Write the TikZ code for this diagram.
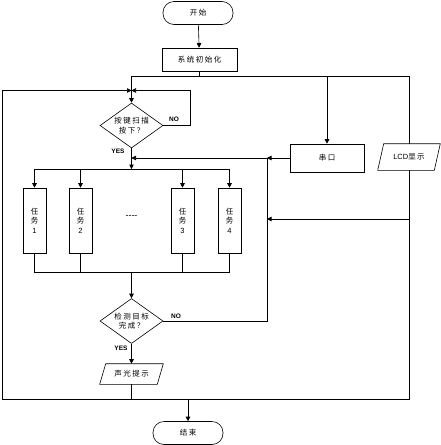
\documentclass[tikz,border=0pt]{standalone}
\usepackage{fontspec}
\setmainfont{Liberation Sans}
\newfontfamily\cjk[LetterSpace=20]{Noto Sans CJK SC}
\newfontfamily\lat{Liberation Sans}
\usetikzlibrary{shapes.geometric,arrows.meta,calc}
\begin{document}
\begin{tikzpicture}[x=1pt,y=-1pt, line width=0.6pt,
  arr/.style={-{Triangle[length=4.5pt,width=4.5pt]}},
  txt/.style={font={\cjk\fontsize{7.5}{9.5}\selectfont}, align=center},
  box/.style={draw, rectangle, txt, inner sep=0pt},
  term/.style={draw, rectangle, rounded corners=11pt, minimum width=70pt, minimum height=23pt, txt},
  dec/.style={draw, diamond, aspect=1.4, inner sep=0pt, minimum width=63pt, minimum height=45pt, txt},
  task/.style={box, minimum width=23pt, minimum height=65pt},
  para/.style={txt, inner sep=0pt},
  lbl/.style={font={\bfseries\fontsize{6.5}{7}\selectfont}, inner sep=0pt}]
\useasboundingbox (0,0) rectangle (441,445);
% nodes
\node[term] (start) at (198,13) {开始};
\node[box, minimum width=75pt, minimum height=23pt] (init) at (199.5,59.5) {系统初始化};
\node[dec] (d1) at (131.5,125.5) {按键扫描\\按下？};
\node[box, minimum width=74pt, minimum height=28pt] (com) at (327,158) {串口};
\node[para, minimum width=56pt, minimum height=26pt] (lcd) at (409,157) {{\lat LCD}显示};
\node[task] (t1) at (34.5,220.5) {任\\务\\{\lat 1}};
\node[task] (t2) at (80.5,220.5) {任\\务\\{\lat 2}};
\node[task] (t3) at (182.5,220.5) {任\\务\\{\lat 3}};
\node[task] (t4) at (229.5,220.5) {任\\务\\{\lat 4}};
\node[font={\lat\fontsize{9}{9}\selectfont}] (dots) at (131.5,217) {-{}-{}-{}-};
\node[dec] (d2) at (131.5,321) {检测目标\\完成？};
\node[para, minimum width=57pt, minimum height=20pt] (sg) at (131.5,374) {声光提示};
\node[term] (end) at (188,433) {结束};
% parallelograms
\draw ($(lcd.south west)+(-3,0)$) -- ($(lcd.south east)+(-3,0)$) -- ($(lcd.north east)+(3,0)$) -- ($(lcd.north west)+(3,0)$) -- cycle;
\draw ($(sg.south west)+(-3,0)$) -- ($(sg.south east)+(-3,0)$) -- ($(sg.north east)+(3,0)$) -- ($(sg.north west)+(3,0)$) -- cycle;
% labels
\node[lbl] (no1l) at (174,119) {NO};
\node[lbl] (yes1l) at (118,151) {YES};
\node[lbl] (no2l) at (176,316) {NO};
\node[lbl] (yes2l) at (121,348) {YES};
% coordinates
\coordinate (j0) at (199.5,76);
\coordinate (jL) at (131.5,76);
\coordinate (jC) at (327,76);
\coordinate (jR) at (409,76);
\coordinate (loop) at (131.5,90.5);
\coordinate (ll) at (2,90.5);
\coordinate (lb) at (2,399);
\coordinate (rb) at (409,399);
\coordinate (no1) at (190,125.5);
\coordinate (no1t) at (190,90.5);
\coordinate (sgb) at (131.5,399);
\coordinate (eb) at (188,399);
\coordinate (bt) at (131.5,169);
\coordinate (b1) at (34.5,169);
\coordinate (b4) at (229.5,169);
\coordinate (bb) at (131.5,272);
\coordinate (cm) at (267,158);
\coordinate (ym) at (131.5,158);
\coordinate (cl) at (267,219);
\coordinate (rl) at (409,219);
\coordinate (no2) at (267,321);
% connectors
\draw[arr] (start) -- (init);
\draw (init.south) -- (j0);
\draw (jL) -- (jR);
\draw[arr] (jL) -- (d1.north);
\draw[arr] (jC) -- (com.north);
\draw (jR) -- (lcd.north);
\draw[arr] (lb) -- (ll) -- (loop);
\draw[arr] (d1.east) -- (no1) -- (no1t) -- (loop);
\draw (lb) -- (rb) -- (lcd.south);
\draw (sg.south) -- (sgb);
\draw[arr] (eb) -- (end.north);
\draw[arr] (d1.south) -- (bt);
\draw (b1) -- (b4);
\draw[arr] (t1.north |- bt) -- (t1.north);
\draw[arr] (t2.north |- bt) -- (t2.north);
\draw[arr] (t3.north |- bt) -- (t3.north);
\draw[arr] (t4.north |- bt) -- (t4.north);
\draw (t1.south) -- (t1.south |- bb) -- (t4.south |- bb) -- (t4.south);
\draw (t2.south) -- (t2.south |- bb);
\draw (t3.south) -- (t3.south |- bb);
\draw[arr] (bb) -- (d2.north);
\draw[arr] (com.west) -- (cm);
\draw[arr] (cm) -- (ym);
\draw[arr] (rl) -- (cl);
\draw (d2.east) -- (no2) -- (cm);
\draw[arr] (d2.south) -- (sg.north);
\end{tikzpicture}
\end{document}
